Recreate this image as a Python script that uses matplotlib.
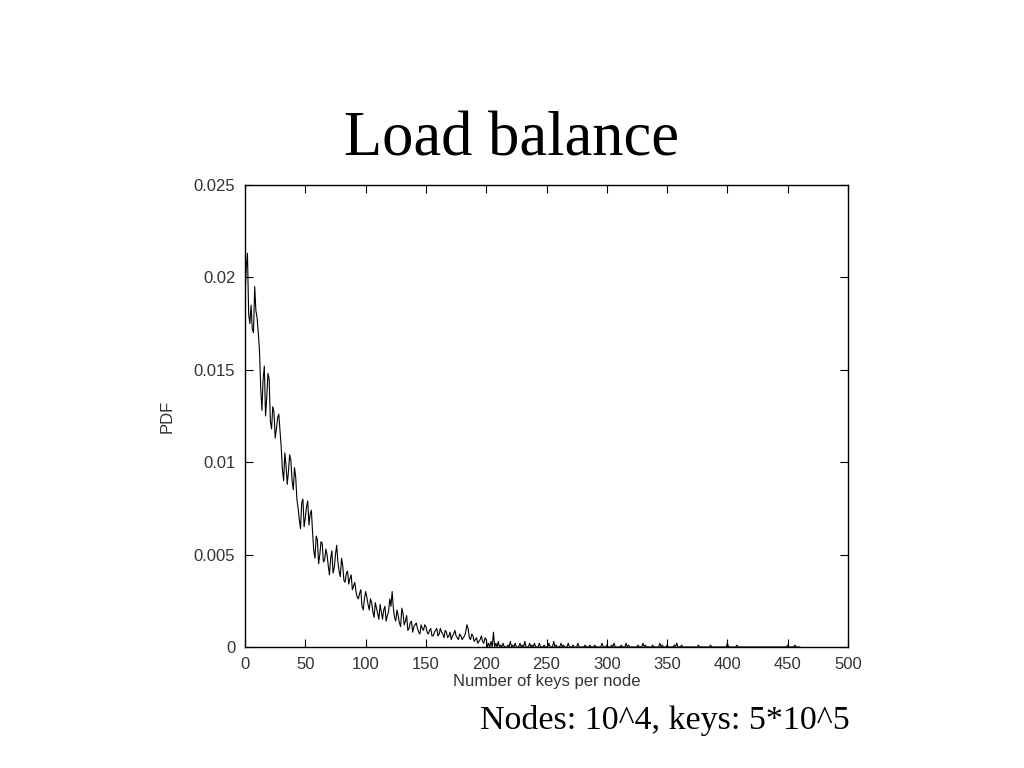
import numpy as np
import matplotlib.pyplot as plt

# number of nodes holding k keys (out of 10^4 nodes)
n_nodes = 10000

# even k from 0 to 240
even_counts = [
    190, 213, 175, 172, 195, 178, 160, 128, 152, 135,
    145, 118, 127, 118, 126, 108, 90, 98, 95, 101,
    85, 92, 75, 64, 80, 70, 79, 72, 62, 48,
    58, 50, 56, 47, 50, 39, 52, 43, 55, 41,
    48, 36, 40, 34, 39, 33, 30, 26, 31, 20,
    30, 23, 26, 19, 24, 18, 23, 15, 22, 17,
    26, 30, 16, 20, 13, 21, 12, 17, 10, 14,
    11, 13, 8, 12, 9, 11, 7, 10, 6, 9,
    6, 10, 7, 9, 5, 8, 6, 9, 5, 7,
    4, 6, 12, 5, 7, 3, 5, 3, 6, 2,
    4, 2, 3, 8, 2, 3, 1, 2, 0, 1,
    3, 1, 2, 0, 2, 1, 3, 0, 2, 1,
    2,
]
even_keys = list(range(0, 242, 2))

# odd k from 1 to 199
odd_counts = [
    205, 180, 185, 170, 182, 170, 140, 145, 125, 148,
    122, 130, 113, 124, 117, 96, 105, 88, 104, 90,
    97, 80, 69, 78, 65, 76, 66, 74, 52, 60,
    45, 57, 46, 53, 44, 48, 40, 50, 46, 38,
    44, 35, 41, 37, 31, 35, 27, 29, 22, 26,
    27, 20, 24, 16, 21, 15, 19, 20, 14, 19,
    22, 21, 14, 17, 11, 18, 14, 9, 13, 8,
    12, 10, 7, 10, 12, 8, 9, 6, 8, 10,
    7, 8, 5, 8, 6, 4, 7, 6, 4, 6,
    5, 8, 10, 4, 6, 4, 2, 4, 3, 5,
]
odd_keys = list(range(1, 200, 2))

# sparse tail: (keys, node count), zero everywhere else
tail_keys = [244, 248, 252, 256, 258, 262, 264, 268, 272, 276, 282, 286, 290,
             296, 300, 304, 306, 312, 316, 318, 326, 330, 332, 338, 344, 346,
             350, 356, 358, 362, 376, 386, 400, 408, 450, 456]
tail_counts = [2, 1, 2, 3, 1, 2, 1, 2, 1, 2, 1, 1, 1,
               2, 1, 1, 2, 1, 2, 1, 1, 2, 1, 1, 2, 1,
               1, 1, 2, 1, 1, 1, 2, 1, 1, 1]

keys = list(range(0, 461))
counts = dict(zip(even_keys, even_counts))
counts.update(dict(zip(odd_keys, odd_counts)))
counts.update(dict(zip(tail_keys, tail_counts)))
pdf = np.array([counts.get(k, 0) for k in keys]) / n_nodes

fig = plt.figure(figsize=(10.24, 7.68), dpi=100)
ax = fig.add_axes([0.2393, 0.1576, 0.5888, 0.6016])
ax.plot(keys, pdf, color="black", linewidth=0.8)

ax.set_xlim(0, 500)
ax.set_ylim(0, 0.025)
ax.set_xticks(range(0, 501, 50))
ax.set_yticks([0, 0.005, 0.01, 0.015, 0.02, 0.025])
ax.set_yticklabels(["0", "0.005", "0.01", "0.015", "0.02", "0.025"])
ax.tick_params(direction="in", top=True, right=True, length=6, width=0.8,
               labelsize=12, labelcolor="#333333")
ax.tick_params(axis="x", pad=7)
ax.tick_params(axis="y", pad=7)
for s in ax.spines.values():
    s.set_linewidth(1.0)
for lab in ax.get_xticklabels() + ax.get_yticklabels():
    lab.set_family("Liberation Sans")

ax.set_xlabel("Number of keys per node", fontsize=12, color="#333333",
              family="Liberation Sans", labelpad=2)
ax.set_ylabel("PDF", fontsize=12, color="#333333", family="Liberation Sans",
              labelpad=14)

fig.text(0.5, 0.8165, "Load balance", ha="center", va="center",
         fontsize=45, family="Liberation Serif")
fig.text(0.83, 0.062, "Nodes: 10^4, keys: 5*10^5", ha="right", va="center",
         fontsize=24.5, family="Liberation Serif")

fig.savefig("out.png", dpi=100)
